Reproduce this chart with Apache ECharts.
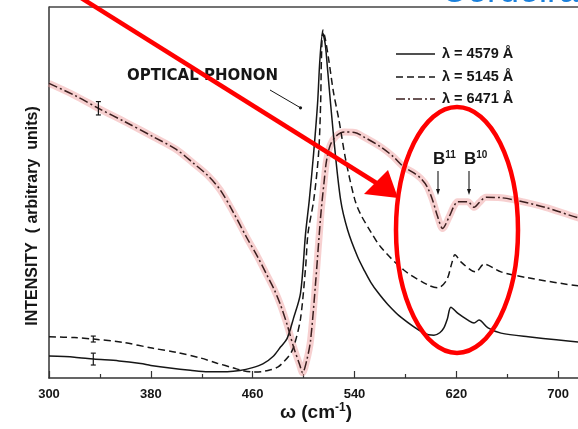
<!DOCTYPE html>
<html>
<head>
<meta charset="utf-8">
<script src="https://cdn.jsdelivr.net/npm/echarts@6/dist/echarts.min.js"></script>
<style>
  html, body { margin: 0; padding: 0; background: #fff; }
  #chart { width: 578px; height: 429px; }
</style>
</head>
<body>
<div id="chart"></div>
<script>
// Raman intensity (arbitrary units) against wavenumber ω (cm^-1), three laser lines.
const wavenumberTicks = [300, 380, 460, 540, 620, 700];

const line4579 = [
  [300, 5.9], [320, 5.6], [335, 5.1], [355, 4.6], [372, 3.9], [380, 3.4], [395, 2.7],
  [411, 2.1], [425, 1.7], [440, 1.7], [450, 2.0], [460, 2.8], [468, 3.8], [476, 5.8],
  [482, 8.4], [487, 10.6], [492, 16.0], [497.6, 22.9], [501.6, 39.1], [504.5, 48.0],
  [507.9, 60.6], [511, 74.1], [512.8, 85.7], [515, 93.0], [517, 90.0], [518.9, 83.0],
  [523.6, 65.0], [529.1, 48.0], [534.6, 39.9], [542.5, 32.6], [548, 28.8], [552.8, 25.8],
  [558.3, 23.1], [566, 19.9], [576.4, 16.4], [594.5, 12.1], [602.4, 11.5], [607, 12.2],
  [610.2, 13.5], [613, 16.0], [615.7, 19.1], [621.3, 17.4], [629.1, 15.6], [633.9, 14.8],
  [637.8, 15.6], [644.9, 13.5], [655.1, 12.1], [676.4, 11.1], [716.5, 9.7], [760, 8.8],
  [780, 8.5]
];

const line5145 = [
  [300, 11.1], [320, 10.9], [335, 10.5], [358, 9.6], [382, 8.0], [400, 6.9], [419, 5.4],
  [432, 4.0], [445, 2.7], [452, 2.0], [461, 1.6], [467, 1.7], [474, 2.2], [480, 3.0],
  [485, 4.6], [490, 6.7], [493, 9.2], [497.6, 16.0], [501.6, 29.9], [503.5, 39.1],
  [508, 48.0], [511.8, 60.6], [513.4, 74.1], [514, 85.7], [515.2, 93.8], [517, 91.5],
  [519.8, 85.7], [523.5, 77.0], [527.8, 69.5], [533.1, 58.8], [540.3, 48.0], [545, 44.0],
  [552.8, 39.4], [560.6, 35.3], [578.7, 29.1], [597.6, 25.1], [605.5, 24.3], [612.4, 26.4],
  [616.4, 30.9], [618.9, 33.2], [623.6, 31.3], [631.5, 29.1], [635.4, 28.6], [641.7, 30.7],
  [655.1, 28.6], [676.4, 27.0], [716.5, 24.8], [760, 23.5], [780, 23.0]
];

const line6471 = [
  [300, 79.4], [320, 76.2], [338.8, 72.7], [360, 69.0], [382, 65.0], [400, 61.6],
  [413.4, 57.9], [425, 54.5], [434.5, 50.7], [444.9, 44.6], [455.4, 37.8], [464, 32.6],
  [471.1, 27.8], [477, 23.8], [482, 19.6], [487.4, 14.0], [492, 8.5], [497, 3.5],
  [499.2, 1.4], [502.5, 4.8], [505.5, 10.2], [509.4, 25.5], [513.4, 43.5], [516, 52.5],
  [518, 58.5], [521, 62.8], [525.5, 65.2], [532, 66.3], [540, 66.2], [547.2, 65.0],
  [560.6, 62.3], [570, 59.8], [578.7, 56.9], [586.6, 55.3], [592.1, 53.8], [597, 51.6],
  [601.3, 48.0], [605.3, 43.5], [609.2, 40.3], [614.4, 43.5], [618, 46.2], [621, 47.5],
  [628.9, 47.5], [634.1, 46.0], [638, 47.3], [643.3, 48.7], [655, 48.6], [665.4, 48.0],
  [690, 46.0], [716.5, 43.1], [760, 39.5], [780, 38.5]
];

// [ω, intensity, half-height of the error bar]
const errorBars = [
  [334.8, 5.1, 1.6],
  [334.8, 10.5, 0.8],
  [338.8, 72.7, 1.8]
];

const legendLabels = ['λ = 4579 Å', 'λ = 5145 Å', 'λ = 6471 Å'];
const phononLabel = 'OPTICAL PHONON';
const isotopeLabels = ['11', '10'];

const ink = '#161616';
const dashDotInk = '#3a1e1e';
const red = '#ff0000';
const fontFamily = 'Liberation Sans';

const chart = echarts.init(document.getElementById('chart'), null, { renderer: 'canvas' });

const legendRows = [
  { y: 54, type: 'solid' },
  { y: 77, type: [7, 4] },
  { y: 99, type: [9, 3, 2, 3] }
];

const graphics = [];

// legend
legendRows.forEach((row, i) => {
  graphics.push({
    type: 'line', z: 50,
    shape: { x1: 396, y1: row.y, x2: 435, y2: row.y },
    style: { stroke: i === 2 ? dashDotInk : ink, lineWidth: 1.5, lineDash: row.type === 'solid' ? null : row.type }
  });
  graphics.push({
    type: 'text', z: 50, x: 442, y: row.y,
    style: { text: legendLabels[i], fontFamily, fontWeight: 'bold', fontSize: 14.5, fill: ink, verticalAlign: 'middle', align: 'left' }
  });
});

// optical phonon note with its pointer
graphics.push({
  type: 'text', z: 50, x: 127, y: 76,
  style: { text: phononLabel, fontFamily: 'DejaVu Sans', fontWeight: 'bold', fontSize: 15, fill: ink, verticalAlign: 'middle', align: 'left' }
});
graphics.push({
  type: 'line', z: 50,
  shape: { x1: 270, y1: 90, x2: 300, y2: 107.5 },
  style: { stroke: ink, lineWidth: 1 }
});
graphics.push({
  type: 'circle', z: 50,
  shape: { cx: 300.5, cy: 107.8, r: 1.6 },
  style: { fill: ink }
});

// isotope markers
[{ x: 438, label: isotopeLabels[0], tx: 433 }, { x: 469, label: isotopeLabels[1], tx: 464 }].forEach(m => {
  graphics.push({
    type: 'text', z: 50, x: m.tx, y: 168,
    style: {
      text: '{b|B}{s|' + m.label + '}',
      verticalAlign: 'bottom', align: 'left',
      rich: {
        b: { fontFamily, fontWeight: 'bold', fontSize: 17, fill: ink, lineHeight: 18 },
        s: { fontFamily, fontWeight: 'bold', fontSize: 10, fill: ink, verticalAlign: 'top', lineHeight: 18, padding: [0, 0, 6, 0] }
      }
    }
  });
  graphics.push({
    type: 'line', z: 50,
    shape: { x1: m.x, y1: 171, x2: m.x, y2: 191 },
    style: { stroke: ink, lineWidth: 1.1 }
  });
  graphics.push({
    type: 'polygon', z: 50,
    shape: { points: [[m.x, 195], [m.x - 2, 189], [m.x + 2, 189]] },
    style: { fill: ink }
  });
});

// vertical axis title
graphics.push({
  type: 'text', z: 50, x: 33, y: 216, rotation: Math.PI / 2,
  style: { text: 'INTENSITY  ( arbitrary  units)', fontFamily, fontWeight: 'bold', fontSize: 16, fill: ink, align: 'center', verticalAlign: 'middle' }
});

// horizontal axis title
graphics.push({
  type: 'text', z: 50, x: 316, y: 413,
  style: {
    text: '{m|ω (cm}{sup|-1}{m|)}', align: 'center', verticalAlign: 'middle',
    rich: {
      m: { fontFamily, fontWeight: 'bold', fontSize: 19, fill: ink, lineHeight: 22 },
      sup: { fontFamily, fontWeight: 'bold', fontSize: 12, fill: ink, verticalAlign: 'top', lineHeight: 22, padding: [0, 0, 8, 0] }
    }
  }
});

// blue heading, mostly above the page
graphics.push({
  type: 'text', z: 5, x: 441, y: 10,
  style: { text: 'Cerdeira', fontFamily, fontSize: 36, fill: '#1a80dc', align: 'left', verticalAlign: 'bottom' }
});

// frame line along the top of the plot
graphics.push({
  type: 'line', z: 6,
  shape: { x1: 49, y1: 7, x2: 578, y2: 7 },
  style: { stroke: '#444', lineWidth: 1.3 }
});

// red callout: arrow and ellipse
graphics.push({
  type: 'line', z: 100,
  shape: { x1: 78, y1: -4, x2: 378, y2: 184 },
  style: { stroke: red, lineWidth: 4.5 }
});
graphics.push({
  type: 'polygon', z: 100,
  shape: { points: [[398, 198], [364, 194], [388, 170]] },
  style: { fill: red }
});
graphics.push({
  type: 'ellipse', z: 100,
  shape: { cx: 457, cy: 230, rx: 61, ry: 123 },
  style: { fill: 'none', stroke: red, lineWidth: 4.5 }
});

const option = {
  animation: false,
  backgroundColor: '#ffffff',
  // the plot runs on past the right edge of the page
  grid: { left: 49, top: 7, width: 611, height: 371, show: false, outerBoundsMode: 'none', containLabel: false },
  xAxis: {
    type: 'value',
    min: 300, max: 780, interval: 80,
    axisLine: { show: true, lineStyle: { color: '#333', width: 1.5 } },
    axisTick: { show: true, inside: true, length: 7, lineStyle: { color: '#333', width: 1.2 } },
    minorTick: { show: true, splitNumber: 2, length: 4, lineStyle: { color: '#333', width: 1.2 } },
    splitLine: { show: false },
    minorSplitLine: { show: false },
    axisLabel: {
      margin: 10, color: ink, fontFamily, fontWeight: 'bold', fontSize: 13,
      formatter: v => (wavenumberTicks.indexOf(v) >= 0 ? String(v) : '')
    }
  },
  yAxis: {
    type: 'value', min: 0, max: 100,
    axisLine: { show: true, lineStyle: { color: '#333', width: 1.5 } },
    axisTick: { show: false },
    axisLabel: { show: false }, splitLine: { show: false }
  },
  series: [
    {
      name: 'highlight', type: 'line', data: line6471, showSymbol: false, smooth: 0.3,
      silent: true, z: 1,
      lineStyle: { color: 'rgba(238, 150, 150, 0.45)', width: 7 }
    },
    {
      name: legendLabels[0], type: 'line', data: line4579, showSymbol: false, smooth: 0.3, z: 3,
      lineStyle: { color: ink, width: 1.5 }
    },
    {
      name: legendLabels[1], type: 'line', data: line5145, showSymbol: false, smooth: 0.3, z: 3,
      lineStyle: { color: ink, width: 1.5, type: [7, 4] }
    },
    {
      name: legendLabels[2], type: 'line', data: line6471, showSymbol: false, smooth: 0.3, z: 3,
      lineStyle: { color: dashDotInk, width: 1.5, type: [9, 3, 2, 3] }
    },
    {
      name: 'error bars', type: 'custom', z: 4, data: errorBars,
      renderItem: (params, api) => {
        const x = api.value(0), y = api.value(1), e = api.value(2);
        const hi = api.coord([x, y + e]);
        const lo = api.coord([x, y - e]);
        const st = { stroke: ink, lineWidth: 1.2 };
        return {
          type: 'group',
          children: [
            { type: 'line', shape: { x1: hi[0], y1: hi[1], x2: lo[0], y2: lo[1] }, style: st },
            { type: 'line', shape: { x1: hi[0] - 2.5, y1: hi[1], x2: hi[0] + 2.5, y2: hi[1] }, style: st },
            { type: 'line', shape: { x1: lo[0] - 2.5, y1: lo[1], x2: lo[0] + 2.5, y2: lo[1] }, style: st }
          ]
        };
      }
    }
  ],
  graphic: graphics
};

chart.setOption(option);
</script>
</body>
</html>
